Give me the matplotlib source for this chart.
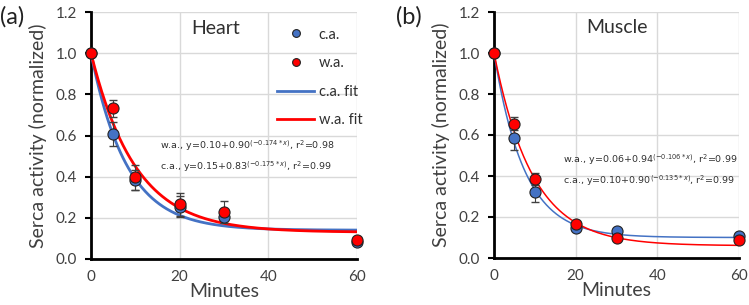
import numpy as np
import matplotlib
matplotlib.use("Agg")
import matplotlib.pyplot as plt

plt.rcParams['font.family'] = ['Lato', 'DejaVu Sans']

minutes = [0, 5, 10, 20, 30, 60]

heart_ca = [1.0, 0.607, 0.384, 0.255, 0.204, 0.082]
heart_ca_err = [0.0, 0.06, 0.05, 0.05, 0.0, 0.01]
heart_wa = [1.0, 0.732, 0.396, 0.265, 0.229, 0.094]
heart_wa_err = [0.0, 0.04, 0.06, 0.058, 0.055, 0.01]

muscle_ca = [1.0, 0.586, 0.32, 0.147, 0.13, 0.108]
muscle_ca_err = [0.0, 0.06, 0.045, 0.01, 0.0, 0.0]
muscle_wa = [1.0, 0.656, 0.384, 0.167, 0.096, 0.089]
muscle_wa_err = [0.0, 0.03, 0.03, 0.0, 0.0, 0.0]

# fit curve parameters (a + b*exp(-k*x)), as drawn
heart_ca_fit = (0.14, 0.86, 0.124)
heart_wa_fit = (0.13, 0.87, 0.10)
muscle_ca_fit = (0.10, 0.90, 0.135)
muscle_wa_fit = (0.06, 0.94, 0.106)

heart_eq = ["w.a., y=0.10+0.90$^{(-0.174*x)}$, r$^2$=0.98",
            "c.a., y=0.15+0.83$^{(-0.175*x)}$, r$^2$=0.99"]
muscle_eq = ["w.a., y=0.06+0.94$^{(-0.106*x)}$, r$^2$=0.99",
             "c.a., y=0.10+0.90$^{(-0.135*x)}$, r$^2$=0.99"]

BLUE = '#4472C4'
RED = '#FF0000'

fig = plt.figure(figsize=(7.49, 3.05), dpi=100)
axA = fig.add_axes([91/749, 46/305, 266/749, 247/305])
axB = fig.add_axes([494/749, 47/305, 245/749, 246/305])


def panel(ax, ca, caerr, wa, waerr, cafit, wafit, lw, title, titlex, eqs, eqx, eqy, label, labx, legend):
    xs = np.linspace(0, 60, 300)
    ax.plot(xs, cafit[0] + cafit[1]*np.exp(-cafit[2]*xs), color=BLUE, lw=lw, zorder=3, label='c.a. fit')
    ax.plot(xs, wafit[0] + wafit[1]*np.exp(-wafit[2]*xs), color=RED, lw=lw, zorder=3, label='w.a. fit')
    ax.errorbar(minutes, ca, yerr=caerr, fmt='none', ecolor='#404040', elinewidth=0.8, capsize=3, zorder=4, clip_on=False)
    ax.errorbar(minutes, wa, yerr=waerr, fmt='none', ecolor='#404040', elinewidth=0.8, capsize=3, zorder=4, clip_on=False)
    ax.plot(minutes, ca, 'o', ms=8, mfc=BLUE, mec='#222222', mew=0.8, ls='none', zorder=5, clip_on=False, label='c.a.')
    ax.plot(minutes, wa, 'o', ms=8, mfc=RED, mec='#222222', mew=0.8, ls='none', zorder=6, clip_on=False, label='w.a.')
    ax.set_xlim(0, 60)
    ax.set_ylim(0, 1.2)
    ax.set_xticks([0, 20, 40, 60])
    ax.set_yticks(np.arange(0, 1.21, 0.2))
    ax.set_yticklabels([f'{v:.1f}' for v in np.arange(0, 1.21, 0.2)])
    ax.grid(True, color='#d9d9d9', lw=1)
    ax.set_axisbelow(True)
    for s in ['top', 'right']:
        ax.spines[s].set_visible(False)
    for s in ['left', 'bottom']:
        ax.spines[s].set_linewidth(2)
        ax.spines[s].set_color('black')
    ax.tick_params(axis='y', length=4, width=1.5, direction='out', labelsize=11, colors='black', labelcolor='#404040', pad=6)
    ax.tick_params(axis='x', length=0, labelsize=11, labelcolor='#404040', pad=8)
    ax.set_xlabel('Minutes', fontsize=14, color='#404040', labelpad=-1)
    ax.set_ylabel('Serca activity (normalized)', fontsize=14, color='#404040', labelpad=6)
    ax.text(titlex, 0.935, title, transform=ax.transAxes, ha='center', va='center', fontsize=14, color='#303030')
    ax.text(eqx, eqy, eqs[0], transform=ax.transAxes, fontsize=6.8, color='#303030',
            family='DejaVu Sans', va='center')
    ax.text(eqx, eqy - 0.085, eqs[1], transform=ax.transAxes, fontsize=6.8, color='#303030',
            family='DejaVu Sans', va='center')
    fig.text(labx, 0.945, label, fontsize=17, color='#222222', ha='left', va='center')
    if legend:
        h, l = ax.get_legend_handles_labels()
        order = [2, 3, 0, 1]
        ax.legend([h[i] for i in order], [l[i] for i in order], loc='upper right',
                  bbox_to_anchor=(1.07, 0.99), frameon=False, fontsize=10.5, markerscale=0.7,
                  handlelength=2.6, labelspacing=1.0, handletextpad=0.3, labelcolor='#303030')


panel(axA, heart_ca, heart_ca_err, heart_wa, heart_wa_err, heart_ca_fit, heart_wa_fit, 2.0,
      'Heart', 0.47, heart_eq, 0.26, 0.46, '(a)', 0.0, True)
panel(axB, muscle_ca, muscle_ca_err, muscle_wa, muscle_wa_err, muscle_ca_fit, muscle_wa_fit, 1.1,
      'Muscle', 0.5, muscle_eq, 0.28, 0.40, '(b)', 0.529, False)

fig.savefig('out.png', dpi=100)
